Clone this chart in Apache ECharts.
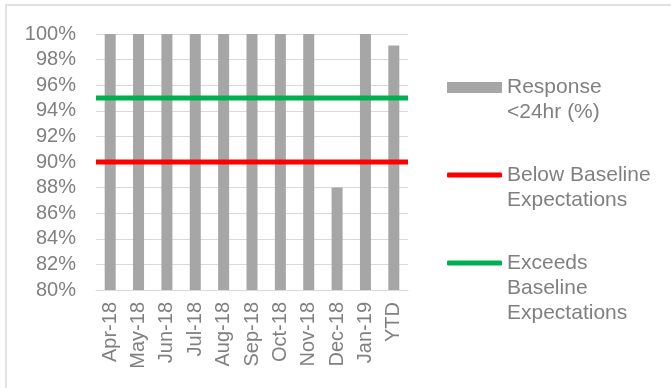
<!DOCTYPE html>
<html lang="en">
<head>
    <meta charset="UTF-8">
    <title>Response within 24hr</title>
    <script src="https://cdn.jsdelivr.net/npm/echarts@6/dist/echarts.min.js"></script>
    <style>
        html, body { margin: 0; padding: 0; background: #fff; }
        #chart { width: 671px; height: 388px; }
    </style>
</head>
<body>
<div id="chart"></div>
<script type="text/javascript">
    // data
    var months = ['Apr-18', 'May-18', 'Jun-18', 'Jul-18', 'Aug-18', 'Sep-18', 'Oct-18', 'Nov-18', 'Dec-18', 'Jan-19', 'YTD'];
    var response = [100, 100, 100, 100, 100, 100, 100, 100, 88, 100, 99.1];
    var belowBaseline = 90;
    var exceedsBaseline = 95;
    var yTicks = { min: 80, max: 100, step: 2 };

    var grey = '#808080';
    var font = 'Liberation Sans, Arial, sans-serif';

    var myChart = echarts.init(document.getElementById('chart'));

    // one legend per item so the icon sits on the first text line
    function legendBox(name, iconCenter, lines, icon, iconH) {
        var n = lines.length;
        var pad = [];
        for (var i = 1; i < n; i++) pad.push('');
        return {
            left: 447,
            top: iconCenter - (2 * n - 1) * 12.5,
            orient: 'vertical',
            padding: 0,
            data: [{ name: name, icon: icon }],
            itemWidth: 55,
            itemHeight: iconH,
            itemGap: 0,
            selectedMode: false,
            formatter: function () { return pad.concat(lines).join('\n'); },
            textStyle: {
                color: grey,
                fontFamily: font,
                fontSize: 21,
                lineHeight: 25
            }
        };
    }

    var option = {
        animation: false,
        backgroundColor: '#fff',
        graphic: [{
            type: 'polyline',
            shape: { points: [[6, 388], [6, 5], [671, 5]] },
            style: { stroke: '#d9d9d9', lineWidth: 1.5, fill: null },
            silent: true
        }],
        legend: [
            legendBox('Response <24hr (%)', 87.5, ['Response', '<24hr (%)'], 'rect', 11),
            legendBox('Below Baseline Expectations', 175, ['Below Baseline', 'Expectations'], 'roundRect', 5),
            legendBox('Exceeds Baseline Expectations', 263, ['Exceeds', 'Baseline', 'Expectations'], 'roundRect', 5)
        ],
        grid: { left: 96, right: 263, top: 34, bottom: 98, containLabel: false },
        xAxis: [{
            type: 'category',
            data: months,
            axisLine: { lineStyle: { color: '#d9d9d9', width: 1 } },
            axisTick: { show: false },
            axisLabel: {
                rotate: 90,
                margin: 12,
                color: grey,
                fontFamily: font,
                fontSize: 20,
                interval: 0
            }
        }, {
            type: 'value',
            min: 0,
            max: 1,
            show: false
        }],
        yAxis: {
            type: 'value',
            min: yTicks.min,
            max: yTicks.max,
            interval: yTicks.step,
            axisLine: { show: false },
            axisTick: { show: false },
            splitLine: { lineStyle: { color: '#d9d9d9', width: 1 } },
            axisLabel: {
                formatter: '{value}%',
                margin: 20,
                color: grey,
                fontFamily: font,
                fontSize: 20
            }
        },
        series: [{
            name: 'Response <24hr (%)',
            type: 'bar',
            data: response,
            barWidth: 11,
            itemStyle: { color: '#a6a6a6' }
        }, {
            name: 'Below Baseline Expectations',
            type: 'line',
            xAxisIndex: 1,
            data: [[0, belowBaseline], [1, belowBaseline]],
            symbol: 'none',
            lineStyle: { color: '#ff0000', width: 5 },
            itemStyle: { color: '#ff0000' },
            z: 3
        }, {
            name: 'Exceeds Baseline Expectations',
            type: 'line',
            xAxisIndex: 1,
            data: [[0, exceedsBaseline], [1, exceedsBaseline]],
            symbol: 'none',
            lineStyle: { color: '#00b050', width: 5 },
            itemStyle: { color: '#00b050' },
            z: 3
        }]
    };

    myChart.setOption(option);
</script>
</body>
</html>
